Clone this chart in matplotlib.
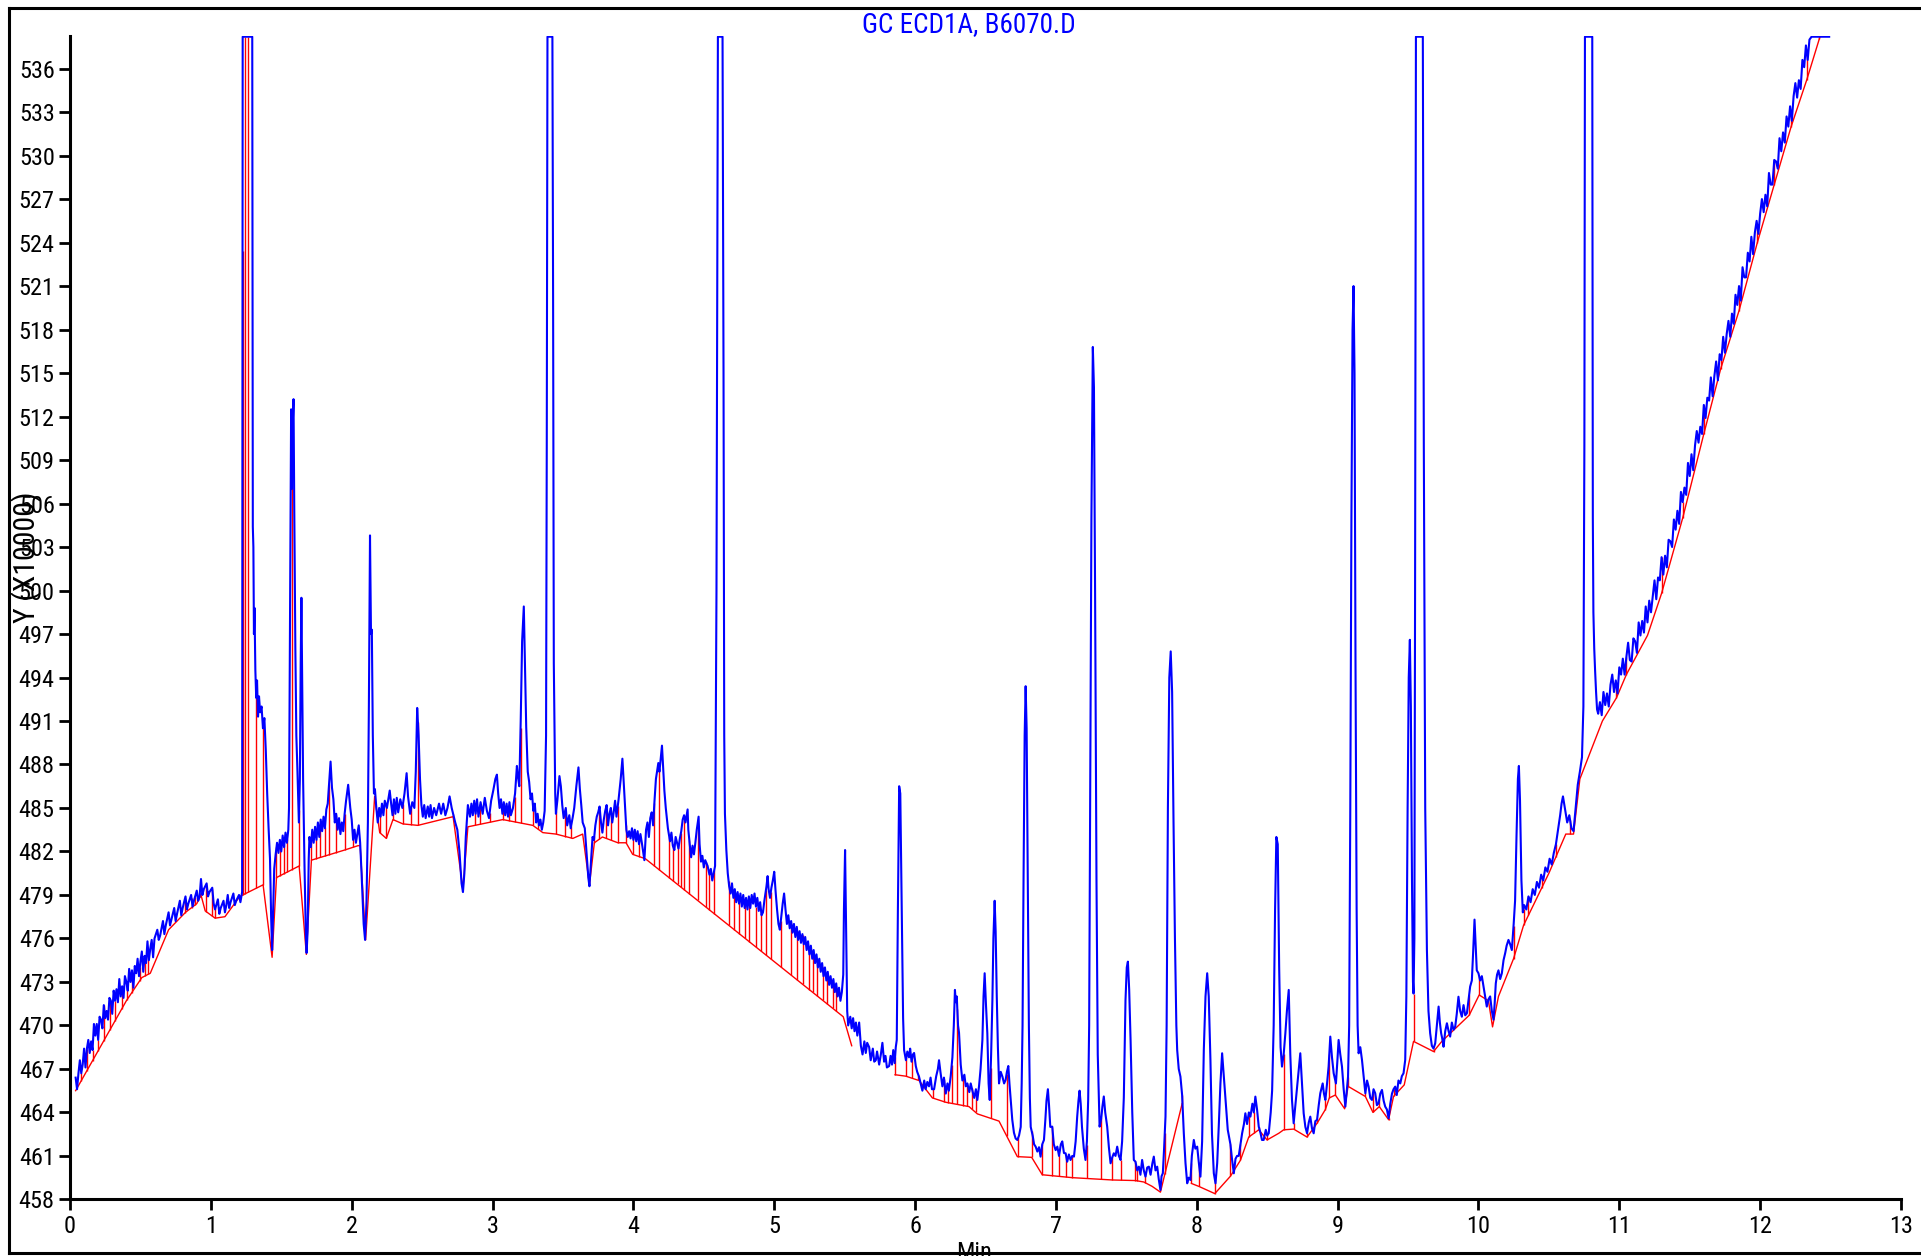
import os
import numpy as np
import matplotlib
matplotlib.use('Agg')
import matplotlib.pyplot as plt
from matplotlib.lines import Line2D
from matplotlib import font_manager as fm


def pick_font():
    cands = [('Liberation Sans Narrow', 'normal'), ('Roboto Condensed', 'normal'),
             ('Noto Sans', 'condensed'), ('Open Sans', 'condensed'), ('Roboto', 'condensed')]
    for fam, stretch in cands:
        try:
            path = fm.findfont(fm.FontProperties(family=fam, stretch=stretch), fallback_to_default=False)
        except Exception:
            continue
        name = os.path.basename(path).lower()
        if 'narrow' in name or 'cond' in name:
            return fam, stretch
    return 'Liberation Sans', 'normal'


FAM, STRETCH = pick_font()
plt.rcParams['font.family'] = [FAM, 'DejaVu Sans']
plt.rcParams['font.stretch'] = STRETCH

title = 'GC ECD1A, B6070.D'
x_label = 'Min'
y_label = 'Y (X10000)'
x_ticks = list(range(0, 14))
y_ticks = list(range(458, 537, 3))

# detector trace (time in min, signal in X10000), segment by segment
trace_a = [(0.04, 466.4), (0.05, 465.6), (0.06, 466.7), (0.07, 467.6), (0.08, 466.7), (0.09, 467.3), (0.10, 468.4),
           (0.11, 467.1), (0.12, 468.4), (0.13, 469.0), (0.14, 468.1), (0.15, 468.9), (0.16, 468.3), (0.17, 470.1),
           (0.18, 469.3), (0.19, 470.1), (0.20, 469.0), (0.21, 470.6), (0.22, 470.4), (0.23, 469.8), (0.24, 471.4),
           (0.25, 470.5), (0.26, 471.0), (0.27, 470.4), (0.28, 471.9), (0.29, 471.7), (0.30, 470.8), (0.31, 472.4),
           (0.32, 471.7), (0.33, 472.5), (0.34, 471.6), (0.35, 473.2), (0.36, 472.0), (0.37, 472.7), (0.38, 471.9),
           (0.39, 473.4), (0.40, 473.0), (0.41, 472.4), (0.42, 473.9), (0.43, 473.0), (0.44, 473.8), (0.45, 472.6),
           (0.46, 474.1), (0.47, 473.6), (0.48, 474.6), (0.49, 473.4), (0.50, 474.4), (0.51, 475.1), (0.52, 473.7),
           (0.53, 474.8), (0.54, 474.3), (0.55, 475.8), (0.56, 474.5), (0.57, 475.3), (0.58, 475.9), (0.59, 474.7),
           (0.60, 476.0), (0.62, 476.6), (0.63, 475.9), (0.64, 476.2), (0.66, 477.2), (0.67, 476.3), (0.68, 476.9),
           (0.70, 477.8), (0.71, 476.9), (0.72, 477.3), (0.74, 478.1), (0.75, 477.2), (0.76, 477.7), (0.78, 478.6),
           (0.79, 477.6), (0.80, 478.1), (0.82, 478.9), (0.83, 478.0), (0.84, 478.4), (0.86, 479.0), (0.87, 478.2),
           (0.88, 478.6), (0.90, 479.3), (0.91, 478.6), (0.92, 478.9), (0.93, 480.1), (0.94, 479.0), (0.95, 479.4),
           (0.97, 479.8), (0.98, 478.9), (0.99, 479.2), (1.01, 479.5), (1.02, 478.4), (1.03, 478.0), (1.05, 478.7),
           (1.06, 477.7), (1.07, 478.1), (1.09, 478.6), (1.10, 477.8), (1.11, 478.3), (1.12, 479.0), (1.13, 478.1),
           (1.14, 478.5), (1.16, 479.1), (1.17, 478.3), (1.18, 478.6), (1.20, 479.0), (1.21, 478.5), (1.222, 479.2)]

trace_b = [(1.226, 538.2), (1.294, 538.2), (1.298, 504.4), (1.302, 503.0), (1.306, 497.0), (1.31, 498.8),
           (1.316, 494.5), (1.322, 492.6), (1.328, 493.8), (1.335, 491.3), (1.342, 492.7), (1.35, 491.6),
           (1.36, 492.0), (1.37, 490.5), (1.38, 491.2), (1.39, 489.0), (1.40, 486.0), (1.41, 483.6), (1.42, 481.5),
           (1.428, 477.5), (1.435, 475.2), (1.442, 477.8), (1.45, 480.8), (1.46, 481.8), (1.47, 482.6), (1.48, 481.9),
           (1.49, 482.8), (1.50, 482.0), (1.51, 483.1), (1.52, 482.3), (1.53, 483.3), (1.54, 482.6), (1.55, 483.5),
           (1.555, 485.0), (1.563, 500.0), (1.57, 512.5), (1.575, 507.0), (1.58, 511.0), (1.587, 513.2),
           (1.592, 506.0), (1.60, 496.0), (1.607, 490.0), (1.615, 487.5), (1.625, 484.0), (1.632, 487.0),
           (1.638, 495.0), (1.643, 499.5), (1.648, 494.0), (1.655, 487.0), (1.665, 481.0), (1.675, 476.0),
           (1.68, 475.0), (1.687, 476.5), (1.695, 481.5), (1.70, 483.0), (1.71, 482.3), (1.72, 483.5), (1.73, 482.6),
           (1.74, 483.7), (1.75, 482.8), (1.76, 484.0), (1.77, 483.0), (1.78, 484.2), (1.79, 483.4), (1.80, 484.4),
           (1.81, 483.6), (1.82, 484.9), (1.83, 485.3), (1.84, 486.8), (1.85, 488.2), (1.86, 486.4), (1.87, 485.6),
           (1.88, 484.0), (1.89, 484.6), (1.90, 483.5), (1.91, 484.3), (1.92, 483.2), (1.93, 484.0), (1.94, 483.4),
           (1.95, 484.6), (1.96, 485.5), (1.975, 486.6), (1.99, 485.0), (2.00, 484.2), (2.01, 482.8), (2.02, 483.5),
           (2.03, 482.6), (2.04, 483.2), (2.05, 483.8), (2.06, 482.6), (2.07, 480.5), (2.085, 477.0), (2.095, 475.9),
           (2.105, 478.5), (2.115, 484.0), (2.122, 492.0), (2.13, 503.8), (2.137, 497.0), (2.143, 497.3),
           (2.15, 490.0), (2.158, 486.0), (2.165, 486.3), (2.175, 485.0), (2.185, 484.0), (2.195, 485.0),
           (2.205, 484.4), (2.215, 485.3), (2.225, 484.5), (2.235, 485.5), (2.25, 485.0), (2.27, 486.2),
           (2.28, 485.3), (2.29, 484.5), (2.30, 485.6), (2.31, 484.6), (2.32, 485.7), (2.33, 484.7), (2.345, 485.6),
           (2.36, 485.0), (2.375, 486.0), (2.39, 487.4), (2.40, 485.8), (2.415, 484.6), (2.43, 485.4), (2.445, 485.0),
           (2.455, 487.5), (2.465, 491.9), (2.475, 490.0), (2.485, 487.0), (2.495, 485.2), (2.505, 484.4),
           (2.515, 485.2), (2.525, 484.3), (2.54, 485.1), (2.55, 484.4), (2.56, 485.2), (2.57, 484.3), (2.585, 485.0),
           (2.60, 484.5), (2.62, 485.3), (2.635, 484.6), (2.65, 485.3), (2.665, 484.5), (2.68, 485.0), (2.695, 485.8),
           (2.71, 485.0), (2.72, 484.6), (2.735, 484.0), (2.75, 483.5), (2.765, 482.0), (2.78, 479.8), (2.79, 479.2),
           (2.80, 480.5), (2.81, 483.0), (2.825, 485.2)]

trace_c = [(2.84, 484.4), (2.85, 485.3), (2.86, 484.5), (2.87, 485.5), (2.88, 484.6), (2.89, 485.6), (2.90, 484.4),
           (2.915, 485.4), (2.93, 484.6), (2.945, 485.7), (2.96, 484.8), (2.975, 484.3), (2.99, 485.5),
           (3.005, 486.2), (3.02, 487.0), (3.031, 487.3), (3.04, 486.0), (3.05, 485.0), (3.06, 485.6), (3.07, 484.6),
           (3.08, 485.4), (3.09, 484.5), (3.10, 485.3), (3.11, 484.4), (3.12, 485.4), (3.13, 484.5), (3.145, 485.0),
           (3.16, 486.0), (3.173, 487.9), (3.18, 487.2), (3.19, 486.5), (3.20, 491.0), (3.21, 496.5), (3.222, 498.9),
           (3.23, 495.0), (3.239, 490.6), (3.25, 487.5), (3.26, 486.8), (3.27, 485.6), (3.28, 486.0), (3.29, 484.8),
           (3.30, 485.3), (3.31, 484.0), (3.32, 484.6), (3.33, 483.8), (3.34, 484.2), (3.35, 483.5), (3.36, 484.0),
           (3.37, 484.8), (3.38, 490.0), (3.385, 510.0), (3.39, 538.2), (3.425, 538.2), (3.43, 520.0),
           (3.435, 495.0), (3.445, 486.0), (3.45, 484.6), (3.46, 485.5), (3.475, 487.2), (3.485, 486.5),
           (3.495, 485.2), (3.505, 484.3), (3.52, 485.0), (3.53, 483.8), (3.545, 484.5), (3.555, 483.6),
           (3.57, 484.4), (3.58, 485.0), (3.595, 486.5), (3.61, 487.8), (3.62, 486.3), (3.63, 485.2), (3.64, 484.0),
           (3.655, 483.6), (3.67, 481.5), (3.68, 480.2), (3.688, 479.6), (3.70, 481.5), (3.71, 483.0), (3.72, 482.8),
           (3.73, 483.8), (3.74, 484.4), (3.75, 484.7), (3.76, 485.1), (3.77, 484.0), (3.78, 483.3), (3.79, 484.2),
           (3.80, 484.8), (3.81, 485.2), (3.82, 483.8), (3.83, 484.6), (3.84, 485.0), (3.85, 484.0), (3.86, 484.7),
           (3.87, 485.5), (3.88, 484.4), (3.895, 485.6), (3.91, 487.0), (3.922, 488.4), (3.93, 487.0),
           (3.94, 485.3), (3.95, 483.5), (3.96, 483.0), (3.97, 483.4), (3.98, 482.9), (3.99, 483.6), (4.00, 482.8),
           (4.01, 483.5), (4.02, 482.7), (4.03, 483.4), (4.04, 482.5), (4.05, 483.2), (4.06, 482.6), (4.078, 481.4),
           (4.09, 483.5), (4.10, 484.0), (4.11, 483.0), (4.12, 484.3), (4.13, 484.7), (4.14, 483.8), (4.15, 485.5),
           (4.16, 487.0), (4.177, 488.1), (4.185, 487.5), (4.203, 489.3), (4.21, 488.0), (4.22, 486.2),
           (4.23, 485.0), (4.245, 483.6), (4.26, 482.7), (4.27, 483.3), (4.28, 482.4), (4.291, 482.1), (4.30, 483.0),
           (4.31, 482.6), (4.32, 482.2), (4.33, 482.9), (4.34, 483.4), (4.35, 484.2), (4.36, 484.5), (4.37, 484.0),
           (4.385, 484.9), (4.39, 483.5), (4.40, 482.5), (4.41, 481.6), (4.42, 482.4), (4.43, 481.8), (4.44, 482.6),
           (4.45, 483.5), (4.463, 484.4), (4.47, 482.5), (4.48, 481.3), (4.49, 481.7), (4.50, 480.9), (4.51, 481.4),
           (4.527, 481.0), (4.54, 480.4), (4.55, 480.8), (4.56, 480.0), (4.57, 480.5), (4.58, 481.0), (4.59, 500.0),
           (4.60, 538.2), (4.633, 538.2), (4.64, 515.0), (4.645, 490.0), (4.65, 484.6), (4.66, 482.1),
           (4.67, 480.5), (4.68, 479.6), (4.69, 479.1), (4.70, 479.8), (4.71, 478.8), (4.72, 479.4), (4.73, 478.5),
           (4.74, 479.2), (4.75, 478.4), (4.76, 479.1), (4.77, 478.2), (4.78, 479.0), (4.79, 478.1), (4.80, 478.8),
           (4.81, 478.0), (4.82, 478.9), (4.83, 478.1), (4.84, 479.0), (4.85, 478.4), (4.86, 479.1), (4.87, 478.2),
           (4.88, 478.8), (4.89, 477.9), (4.90, 478.5), (4.91, 477.6), (4.92, 477.8), (4.93, 478.6), (4.945, 479.6),
           (4.953, 480.3), (4.96, 479.4), (4.97, 478.8), (4.98, 479.5), (4.99, 480.0), (5.0, 480.6), (5.01, 479.2),
           (5.02, 478.0), (5.03, 477.0), (5.04, 476.6), (5.05, 477.5), (5.06, 478.4), (5.07, 479.1), (5.08, 478.0),
           (5.09, 477.0), (5.10, 477.6), (5.11, 476.7), (5.12, 477.2), (5.13, 476.4), (5.14, 477.0), (5.15, 476.1),
           (5.16, 476.8), (5.17, 475.9), (5.18, 476.5), (5.19, 475.7), (5.20, 476.3), (5.21, 475.6), (5.22, 476.1),
           (5.23, 475.2), (5.24, 475.8), (5.25, 474.9), (5.26, 475.5), (5.27, 474.6), (5.28, 475.2), (5.29, 474.3),
           (5.30, 474.9), (5.31, 474.0), (5.32, 474.6), (5.33, 473.7), (5.34, 474.3), (5.35, 473.4), (5.36, 474.0),
           (5.37, 473.1), (5.38, 473.7), (5.39, 472.8), (5.40, 473.4), (5.41, 472.6), (5.42, 473.2), (5.43, 472.3),
           (5.44, 472.9), (5.45, 472.0), (5.46, 472.6), (5.47, 471.7), (5.48, 472.3), (5.49, 473.5), (5.495, 478.0),
           (5.503, 482.1), (5.51, 477.0), (5.518, 471.0), (5.525, 470.0)]

trace_d = [(5.54, 470.6), (5.55, 469.8), (5.56, 470.5), (5.57, 469.6), (5.58, 470.2), (5.59, 469.3), (5.603, 470.2),
           (5.615, 468.6), (5.627, 468.0), (5.64, 468.9), (5.65, 468.1), (5.66, 468.8), (5.674, 468.5),
           (5.685, 467.6), (5.70, 468.4), (5.71, 467.5), (5.721, 467.6), (5.73, 468.2), (5.745, 467.3),
           (5.757, 468.0), (5.768, 468.8), (5.78, 467.5), (5.79, 467.9), (5.80, 467.1), (5.816, 467.2),
           (5.826, 467.9), (5.836, 467.3), (5.845, 468.3), (5.855, 467.4), (5.863, 468.5), (5.87, 469.0),
           (5.878, 478.0), (5.887, 486.5), (5.895, 486.0), (5.905, 478.0), (5.915, 470.5), (5.922, 468.3),
           (5.935, 467.6), (5.945, 468.2), (5.957, 467.8), (5.965, 468.4), (5.975, 467.5), (5.985, 468.0),
           (5.993, 468.1), (6.005, 467.2), (6.015, 466.8), (6.028, 466.47), (6.04, 466.0), (6.052, 465.5),
           (6.065, 466.2), (6.075, 465.6), (6.087, 466.1), (6.099, 465.8), (6.11, 466.4), (6.12, 465.6),
           (6.135, 465.6), (6.15, 466.5), (6.162, 467.0), (6.17, 467.6), (6.18, 466.8), (6.194, 465.8),
           (6.205, 466.4), (6.218, 465.3), (6.23, 466.0), (6.24, 465.5), (6.253, 466.5), (6.265, 467.8),
           (6.275, 470.0), (6.283, 472.45), (6.289, 471.6), (6.296, 472.0), (6.305, 470.0), (6.312, 469.5),
           (6.324, 467.3), (6.336, 466.2), (6.35, 466.6), (6.36, 465.8), (6.371, 466.0), (6.385, 465.4),
           (6.395, 466.0), (6.407, 465.5), (6.42, 465.0), (6.432, 465.6), (6.442, 464.86), (6.454, 465.8),
           (6.465, 467.0), (6.478, 469.0), (6.486, 472.0), (6.494, 473.6), (6.503, 471.5), (6.513, 469.46),
           (6.522, 466.0), (6.53, 464.86), (6.54, 468.0), (6.549, 471.75), (6.556, 476.0), (6.565, 478.6),
           (6.572, 476.5), (6.58, 472.0), (6.588, 468.5), (6.596, 466.0), (6.608, 466.8), (6.62, 466.47),
           (6.632, 466.0), (6.643, 466.24), (6.652, 466.8), (6.662, 467.2), (6.67, 466.0), (6.679, 464.86),
           (6.69, 463.5), (6.702, 462.6), (6.714, 462.2), (6.726, 462.1), (6.738, 462.4), (6.75, 463.0),
           (6.757, 466.0), (6.763, 470.0), (6.77, 480.0), (6.778, 490.0), (6.785, 493.4), (6.792, 490.5),
           (6.80, 480.0), (6.808, 470.0), (6.815, 465.0), (6.821, 463.0), (6.835, 462.4), (6.845, 461.8),
           (6.856, 461.64), (6.868, 461.3), (6.88, 461.6), (6.891, 460.95), (6.903, 461.8), (6.915, 462.1),
           (6.925, 463.5), (6.933, 464.8), (6.943, 465.6), (6.951, 464.5), (6.96, 463.0), (6.974, 463.02),
           (6.985, 461.8), (6.998, 461.4), (7.01, 461.64), (7.022, 461.0), (7.035, 461.8), (7.045, 462.0),
           (7.057, 461.2), (7.069, 461.18), (7.08, 460.6), (7.092, 461.1), (7.104, 460.72), (7.116, 461.0),
           (7.128, 460.95), (7.14, 462.0), (7.151, 463.71), (7.16, 464.8), (7.168, 465.5), (7.176, 464.6),
           (7.185, 463.0), (7.198, 461.5), (7.21, 460.72), (7.22, 462.0), (7.229, 464.86), (7.236, 470.0),
           (7.243, 485.0), (7.252, 505.0), (7.262, 516.8), (7.27, 514.0), (7.278, 500.0), (7.288, 480.0),
           (7.297, 468.0), (7.31, 463.02), (7.322, 463.6), (7.33, 464.4), (7.34, 465.1), (7.35, 464.0),
           (7.364, 463.02), (7.376, 461.6), (7.388, 460.49), (7.40, 460.9), (7.411, 461.18), (7.423, 461.0),
           (7.435, 461.64), (7.447, 461.0), (7.459, 460.72), (7.47, 462.0), (7.482, 465.0), (7.494, 471.75),
           (7.503, 474.0), (7.511, 474.4), (7.52, 472.5), (7.53, 469.0), (7.542, 464.0), (7.553, 460.72),
           (7.565, 460.6), (7.577, 460.0), (7.589, 460.26), (7.60, 459.7), (7.612, 460.72), (7.624, 460.0),
           (7.636, 459.57), (7.648, 460.2), (7.66, 460.26), (7.672, 459.7), (7.685, 460.5), (7.695, 460.95),
           (7.707, 460.0), (7.719, 460.26), (7.73, 459.4), (7.742, 458.65), (7.75, 459.6), (7.759, 459.8),
           (7.768, 461.5), (7.778, 463.71), (7.786, 470.0), (7.795, 485.0), (7.805, 494.0), (7.815, 495.8),
           (7.825, 493.0), (7.835, 484.0), (7.845, 476.0), (7.855, 470.0), (7.861, 468.3), (7.872, 467.0),
           (7.884, 466.47), (7.896, 465.2), (7.908, 462.56), (7.92, 460.5), (7.932, 459.11), (7.943, 459.5),
           (7.955, 459.34), (7.965, 461.0), (7.979, 462.1), (7.99, 461.5), (8.003, 461.64), (8.015, 460.5),
           (8.026, 459.57), (8.038, 462.0), (8.05, 468.31), (8.062, 472.0), (8.074, 473.6), (8.085, 472.0),
           (8.097, 467.62), (8.108, 462.5), (8.121, 459.8), (8.133, 459.11), (8.145, 460.5), (8.156, 463.02),
           (8.168, 466.0), (8.18, 468.08), (8.192, 466.5), (8.204, 464.86), (8.22, 462.8), (8.239, 461.8),
           (8.25, 460.8), (8.263, 459.8), (8.275, 460.8), (8.286, 461.0), (8.298, 461.0), (8.31, 461.8),
           (8.322, 462.56), (8.335, 463.2), (8.345, 463.94), (8.357, 463.2), (8.37, 464.0), (8.381, 463.71),
           (8.395, 464.6), (8.405, 464.0), (8.416, 465.09), (8.428, 464.2), (8.44, 463.02), (8.452, 462.6),
           (8.463, 462.1), (8.475, 462.1), (8.49, 462.8), (8.50, 462.4), (8.511, 462.56), (8.525, 464.0),
           (8.535, 465.5), (8.546, 470.0), (8.556, 478.0), (8.565, 483.0), (8.575, 482.5), (8.585, 474.0)]

trace_e = [(8.595, 468.5), (8.605, 467.16), (8.617, 468.0), (8.629, 469.46), (8.64, 471.0), (8.653, 472.45),
           (8.664, 468.0), (8.676, 464.86), (8.688, 463.25), (8.70, 464.5), (8.712, 465.78), (8.724, 467.0),
           (8.735, 468.08), (8.747, 466.0), (8.759, 463.94), (8.771, 463.0), (8.783, 462.56), (8.795, 463.3),
           (8.806, 463.71), (8.818, 462.9), (8.83, 462.56), (8.842, 463.4), (8.854, 463.48), (8.866, 464.5),
           (8.877, 465.32), (8.894, 466.0), (8.903, 465.3), (8.913, 464.86), (8.925, 466.0), (8.936, 467.16),
           (8.948, 469.23), (8.96, 467.8), (8.972, 466.7), (8.988, 466.0), (8.998, 467.5), (9.007, 469.0),
           (9.019, 468.0), (9.031, 467.16), (9.043, 465.6), (9.055, 464.4), (9.065, 465.5), (9.074, 466.47),
           (9.082, 470.0), (9.09, 485.0), (9.098, 505.0), (9.106, 518.0), (9.113, 521.0), (9.12, 515.0),
           (9.127, 495.0), (9.135, 478.0), (9.142, 470.0), (9.149, 468.08), (9.161, 468.5), (9.173, 467.62),
           (9.185, 466.5), (9.197, 465.32), (9.209, 466.2), (9.22, 465.78), (9.232, 465.0), (9.244, 464.86),
           (9.255, 465.6), (9.267, 465.32), (9.279, 464.5), (9.291, 464.63), (9.303, 465.3), (9.315, 465.55),
           (9.327, 464.8), (9.338, 464.4), (9.35, 464.2), (9.362, 463.6), (9.374, 464.6), (9.386, 465.3),
           (9.397, 465.6), (9.409, 465.78), (9.42, 465.2), (9.432, 466.2), (9.445, 466.0), (9.456, 466.5),
           (9.468, 466.7), (9.48, 467.62), (9.488, 472.0), (9.497, 485.0), (9.505, 494.0), (9.513, 496.6),
           (9.52, 492.0), (9.528, 480.0), (9.535, 473.0), (9.539, 472.2), (9.545, 476.0), (9.55, 500.0),
           (9.556, 538.2), (9.605, 538.2), (9.612, 510.0), (9.622, 485.0), (9.634, 475.2), (9.645, 471.0),
           (9.657, 469.46), (9.669, 468.6), (9.681, 468.4), (9.693, 468.77), (9.705, 470.0), (9.717, 471.3),
           (9.726, 470.2), (9.735, 469.46), (9.745, 469.0), (9.752, 468.53), (9.764, 469.6), (9.776, 470.15),
           (9.788, 469.6), (9.799, 469.23), (9.811, 470.2), (9.823, 469.7), (9.835, 469.92), (9.846, 470.8),
           (9.858, 471.98), (9.87, 471.0), (9.882, 470.6), (9.894, 471.4), (9.906, 470.7), (9.918, 470.84),
           (9.93, 471.8), (9.941, 472.68), (9.953, 473.1), (9.962, 475.0), (9.972, 477.3), (9.98, 475.5),
           (9.988, 473.8), (10.0, 473.6), (10.012, 473.1), (10.024, 473.4), (10.036, 472.68), (10.048, 472.0),
           (10.059, 471.3), (10.071, 471.8), (10.083, 472.0), (10.095, 471.0), (10.107, 470.4), (10.115, 471.5),
           (10.123, 472.9), (10.132, 473.5), (10.142, 473.8), (10.154, 473.2), (10.166, 473.6), (10.178, 474.5),
           (10.19, 475.0), (10.2, 475.5), (10.213, 475.9), (10.225, 475.6), (10.237, 475.2), (10.25, 477.0),
           (10.26, 478.6), (10.27, 483.0), (10.28, 487.0), (10.287, 487.9), (10.295, 485.5), (10.305, 480.0),
           (10.315, 477.8), (10.325, 478.3), (10.34, 478.0), (10.355, 478.9), (10.37, 478.5), (10.385, 479.4),
           (10.40, 479.0), (10.415, 479.9), (10.43, 479.5), (10.445, 480.4), (10.46, 480.0), (10.475, 480.9),
           (10.49, 480.6), (10.505, 481.5), (10.52, 481.1), (10.535, 481.9), (10.55, 482.5), (10.565, 483.5),
           (10.58, 484.5), (10.59, 485.3), (10.60, 485.8), (10.615, 484.9), (10.63, 484.0), (10.645, 484.5),
           (10.66, 483.6), (10.675, 483.4), (10.69, 485.0), (10.705, 486.6), (10.72, 487.5), (10.735, 488.5),
           (10.745, 492.0), (10.752, 510.0), (10.756, 538.2), (10.808, 538.2), (10.812, 505.0), (10.816, 498.5),
           (10.822, 496.0), (10.828, 494.5), (10.835, 493.0), (10.842, 491.8), (10.85, 491.5)]

trace_f = [(10.8625, 492.3), (10.875, 491.4), (10.8875, 493.0), (10.9, 492.1), (10.9125, 492.9), (10.925, 492.0),
           (10.9375, 493.5), (10.95, 494.2), (10.9625, 493.0), (10.975, 493.8), (10.9875, 492.9), (11.0, 494.7),
           (11.0125, 494.2), (11.025, 495.3), (11.0375, 494.2), (11.05, 495.4), (11.0625, 496.4), (11.075, 495.2),
           (11.0875, 495.1), (11.1, 496.7), (11.1125, 496.5), (11.125, 495.7), (11.1375, 497.8), (11.15, 496.9),
           (11.1625, 497.9), (11.175, 497.1), (11.1875, 498.9), (11.2, 497.8), (11.2125, 499.3), (11.225, 498.5),
           (11.2375, 499.6), (11.25, 500.7), (11.2625, 499.4), (11.275, 500.9), (11.2875, 500.7), (11.3, 502.3),
           (11.3125, 501.1), (11.325, 502.4), (11.3375, 501.6), (11.35, 503.5), (11.3625, 503.4), (11.375, 503.0),
           (11.3875, 504.9), (11.4, 504.2), (11.4125, 505.5), (11.425, 504.6), (11.4375, 506.8), (11.45, 506.1),
           (11.4625, 507.1), (11.475, 506.6), (11.4875, 508.8), (11.5, 507.9), (11.5125, 509.4), (11.525, 508.3),
           (11.5375, 510.0), (11.55, 511.0), (11.5625, 510.2), (11.575, 511.3), (11.5875, 510.8), (11.6, 512.8),
           (11.6125, 511.9), (11.625, 513.3), (11.6375, 513.1), (11.65, 514.7), (11.6625, 513.4), (11.675, 514.8),
           (11.6875, 515.8), (11.7, 514.5), (11.7125, 516.3), (11.725, 515.9), (11.7375, 517.5), (11.75, 516.4),
           (11.7625, 517.7), (11.775, 518.6), (11.7875, 517.5), (11.8, 519.1), (11.8125, 518.4), (11.825, 520.4),
           (11.8375, 519.7), (11.85, 521.0), (11.8625, 520.0), (11.875, 522.3), (11.8875, 521.6), (11.9, 521.6),
           (11.9125, 523.3), (11.925, 522.7), (11.9375, 524.4), (11.95, 523.2), (11.9625, 524.7), (11.975, 525.5),
           (11.9875, 524.6), (12.0, 526.0), (12.0125, 527.0), (12.025, 526.1), (12.0375, 527.3), (12.05, 526.5),
           (12.0625, 528.8), (12.075, 528.0), (12.0875, 528.0), (12.1, 529.7), (12.1125, 529.6), (12.125, 529.1),
           (12.1375, 531.2), (12.15, 530.3), (12.1625, 531.6), (12.175, 530.9), (12.1875, 532.7), (12.2, 532.0),
           (12.2125, 533.4), (12.225, 532.4), (12.2375, 534.1), (12.25, 535.0), (12.2625, 534.0), (12.275, 535.2),
           (12.2875, 534.6), (12.3, 536.6), (12.3125, 536.1), (12.325, 537.6), (12.3375, 536.6), (12.35, 538.0),
           (12.365, 538.2), (12.49, 538.2)]

# integration baseline vertices (nan = break)
baseline = [(0.04, 465.5), (0.40, 471.7), (0.51, 473.3), (0.57, 473.6), (0.70, 476.6), (0.82, 477.8),
            (0.90, 478.4), (0.93, 479.0), (0.96, 477.9), (1.03, 477.4), (1.10, 477.5), (1.206, 478.9),
            (1.371, 479.7), (1.435, 474.7), (1.466, 480.2), (1.627, 481.0), (1.678, 474.9), (1.714, 481.4),
            (1.95, 482.1), (2.045, 482.4), (2.06, 482.4), (2.099, 475.9), (2.163, 485.8), (2.199, 483.3),
            (2.246, 482.9), (2.293, 484.2), (2.364, 483.9), (2.47, 483.8), (2.72, 484.4), (2.79, 479.4),
            (2.825, 483.7), (3.073, 484.2), (3.286, 483.8), (3.357, 483.3), (3.45, 483.2), (3.57, 482.9),
            (3.64, 483.2), (3.688, 479.7), (3.723, 482.6), (3.78, 483.0), (3.89, 482.6), (3.948, 482.6),
            (3.995, 481.8), (4.085, 481.5), (5.49, 470.6), (5.55, 468.6), (np.nan, np.nan),
            (5.858, 466.6), (5.934, 466.5), (6.028, 466.2), (6.123, 465.0), (6.218, 464.7), (6.383, 464.4),
            (6.442, 463.9), (6.596, 463.4), (6.726, 460.95), (6.828, 460.9), (6.903, 459.7), (7.116, 459.5),
            (7.4, 459.34), (7.565, 459.3), (7.624, 459.2), (7.683, 458.9), (7.742, 458.5), (7.896, 464.6),
            (np.nan, np.nan),
            (7.962, 459.1), (8.014, 458.9), (8.128, 458.4), (8.239, 459.6), (8.31, 460.7), (8.369, 462.3),
            (8.44, 462.8), (8.499, 462.1), (8.582, 462.56), (8.617, 462.8), (8.688, 462.85), (8.783, 462.3),
            (8.854, 463.25), (8.913, 464.2), (8.941, 465.0), (8.984, 465.2), (9.05, 464.25), (9.074, 465.8),
            (9.197, 465.1), (9.251, 464.0), (9.296, 464.4), (9.362, 463.5), (9.397, 465.1), (9.473, 465.9),
            (9.539, 468.9), (9.681, 468.2), (9.74, 468.9), (9.934, 470.7), (10.005, 472.1), (10.071, 471.7),
            (10.1, 469.9), (10.142, 472.0), (10.249, 474.6), (10.32, 476.9), (10.39, 478.3), (10.5, 480.5),
            (10.62, 483.2), (10.675, 483.2), (10.72, 487.0), (10.88, 491.0), (10.98, 492.6), (11.05, 494.2),
            (11.2, 496.9), (11.3, 499.8), (11.45, 505.0), (11.6, 510.8), (11.72, 515.3), (11.85, 519.3),
            (11.98, 524.0), (12.1, 528.0), (12.22, 532.0), (12.33, 535.2), (12.45, 539.0)]

# peak start/stop drop lines (min)
drop_times = [0.08, 0.12, 0.16, 0.20, 0.24, 0.284, 0.32, 0.366, 0.402, 0.437, 0.496, 0.532, 0.556,
              0.816, 0.863, 0.887, 0.922, 0.969, 1.005, 1.028,
              1.225, 1.246, 1.265, 1.324, 1.371,
              1.466, 1.494, 1.518, 1.543, 1.577, 1.627,
              1.714, 1.749, 1.778, 1.809, 1.839, 1.891, 1.95, 2.009,
              2.199, 2.246, 2.293, 2.364, 2.423, 2.47, 2.72,
              2.872, 2.913, 2.979, 3.073, 3.116, 3.156, 3.199, 3.286, 3.326, 3.452, 3.518, 3.558,
              3.723, 3.759, 3.806, 3.842, 3.889, 3.948, 3.995, 4.043, 4.149, 4.184, 4.255, 4.279,
              4.314, 4.338, 4.362, 4.397, 4.456, 4.515, 4.539, 4.574, 4.676, 4.716, 4.752, 4.794,
              4.823, 4.87, 4.905, 4.941, 4.976, 5.047, 5.118, 5.165, 5.201, 5.248, 5.272, 5.307,
              5.343, 5.378, 5.414, 5.437,
              5.858, 5.939, 5.981, 6.024, 6.128, 6.206, 6.237, 6.26, 6.3, 6.341, 6.371, 6.402, 6.43,
              6.537, 6.65, 6.733, 6.828, 6.903, 6.974, 7.021, 7.073, 7.116, 7.218, 7.322, 7.4, 7.459,
              7.56, 7.577, 7.631, 7.773, 7.896, 7.962, 8.014, 8.128, 8.239, 8.31, 8.369, 8.404, 8.44,
              8.499, 8.617, 8.688, 8.783, 8.854, 8.913, 8.941, 8.984, 9.074, 9.197, 9.251, 9.296,
              9.362, 9.397, 9.539, 9.681, 9.74, 9.934, 10.005, 10.071, 10.249, 10.32, 10.355,
              10.45, 10.55, 10.65, 10.98, 11.05, 11.3, 11.45, 11.6, 11.72, 11.85, 11.98, 12.1,
              12.22, 12.33, 12.42]

BLUE = '#0000ff'
RED = '#ff0000'

tr = np.array(trace_a + trace_b + trace_c + trace_d + trace_e + trace_f, dtype=float)
order = np.argsort(tr[:, 0], kind='stable')
t, v = tr[order, 0], tr[order, 1]
bl = np.array(baseline, dtype=float)
bt, bv = bl[:, 0], bl[:, 1]
ok = np.isfinite(bt)
dt = np.array(drop_times)
d_lo = np.interp(dt, bt[ok], bv[ok])
d_hi = np.interp(dt, t, v)

W, H = 1921, 1256
fig = plt.figure(figsize=(W / 100, H / 100), dpi=100)
ax = fig.add_axes([70 / W, (H - 1199.4) / H, (1901 - 70) / W, (1199.4 - 36) / H])

ax.vlines(dt, d_lo, d_hi, colors=RED, linewidth=1.0, zorder=2)
ax.plot(bt, bv, color=RED, linewidth=1.0, zorder=2)
ax.plot(t, v, color=BLUE, linewidth=1.5, zorder=3)

ax.set_xlim(0, 13)
ax.set_ylim(458, 538.25)
ax.set_xticks(x_ticks)
ax.set_yticks(y_ticks)
for s in ('top', 'right'):
    ax.spines[s].set_visible(False)
for s in ('left', 'bottom'):
    ax.spines[s].set_linewidth(2.2)
ax.tick_params(direction='out', length=8, width=2.0, labelsize=17.5, pad=3)

fig.text(969 / W, 1 - 32 / H, title, color=BLUE, fontsize=19.5, ha='center', va='baseline')
fig.text(27 / W, 1 - 557 / H, y_label, rotation=90, fontsize=21.5, ha='center', va='center')
fig.text(974 / W, 1 - 1241 / H, x_label, fontsize=17.5, ha='center', va='top')

# page frame
fig.add_artist(Line2D([8.5 / W, 1], [1 - 7.5 / H, 1 - 7.5 / H], transform=fig.transFigure, color='black', lw=2.2))
fig.add_artist(Line2D([8.5 / W, 8.5 / W], [3 / H, 1 - 7.5 / H], transform=fig.transFigure, color='black', lw=2.2))
fig.add_artist(Line2D([8.5 / W, 1], [3 / H, 3 / H], transform=fig.transFigure, color='black', lw=2.2))

fig.savefig('out.png', dpi=100)
